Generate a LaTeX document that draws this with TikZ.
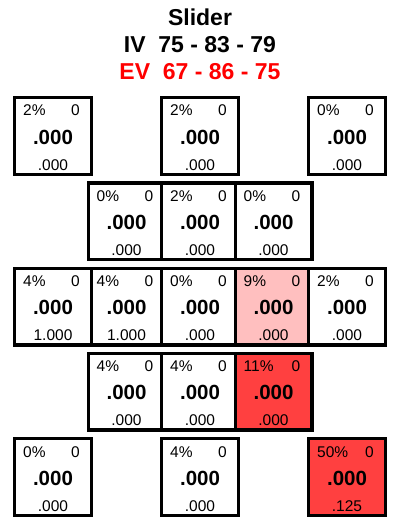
\documentclass[tikz,border=0pt]{standalone}
\usepackage{fontspec}
\setmainfont{Liberation Sans}
\definecolor{hot}{RGB}{255,64,64}
\definecolor{warm}{RGB}{255,191,191}
\definecolor{evred}{RGB}{255,0,0}
\tikzset{
  cell/.style={draw,line width=3.3pt,minimum size=76.7pt,inner sep=0pt},
  head/.style={inner sep=0pt,font=\fontsize{23}{27}\selectfont\bfseries},
  pct/.style={inner sep=0pt,font=\fontsize{15.5}{18}\selectfont},
  big/.style={inner sep=0pt,font=\fontsize{20.5}{24}\selectfont\bfseries}
}
\begin{document}
\begin{tikzpicture}[x=1pt,y=-1pt]
    \useasboundingbox (0,0) rectangle (397,524);
    \node[head,anchor=base] (title) at (200,26) {Slider};
    \node[head,anchor=base] (iv) at (200,53) {IV~~75 - 83 - 79};
    \node[head,anchor=base,text=evred] (ev) at (200,80) {EV~~67 - 86 - 75};
    % column / row / percent / bottom value / fill
    \foreach \c/\r/\p/\e/\f in {0/0/2/.000/white,2/0/2/.000/white,4/0/0/.000/white,
      1/1/0/.000/white,2/1/2/.000/white,3/1/0/.000/white,
      1/2/4/1.000/white,0/2/4/1.000/white,2/2/0/.000/white,3/2/9/.000/warm,4/2/2/.000/white,
      1/3/4/.000/white,2/3/4/.000/white,3/3/11/.000/hot,
      0/4/0/.000/white,2/4/4/.000/white,4/4/50/.125/hot}
    {
      \pgfmathsetmacro\x{13+73.5*\c}
      \pgfmathsetmacro\y{96+85.25*\r}
      \node[cell,fill=\f] (b\c\r) at (\x+40,\y+40) {};
      \node[pct,anchor=base west] (p\c\r) at (\x+10,\y+20) {\p\%};
      \node[pct,anchor=base east] (n\c\r) at (\x+67,\y+20) {0};
      \node[big,anchor=base] (v\c\r) at (\x+40,\y+48) {.000};
      \node[pct,anchor=base] (e\c\r) at (\x+40,\y+74) {\e};
    }
\end{tikzpicture}
\end{document}
